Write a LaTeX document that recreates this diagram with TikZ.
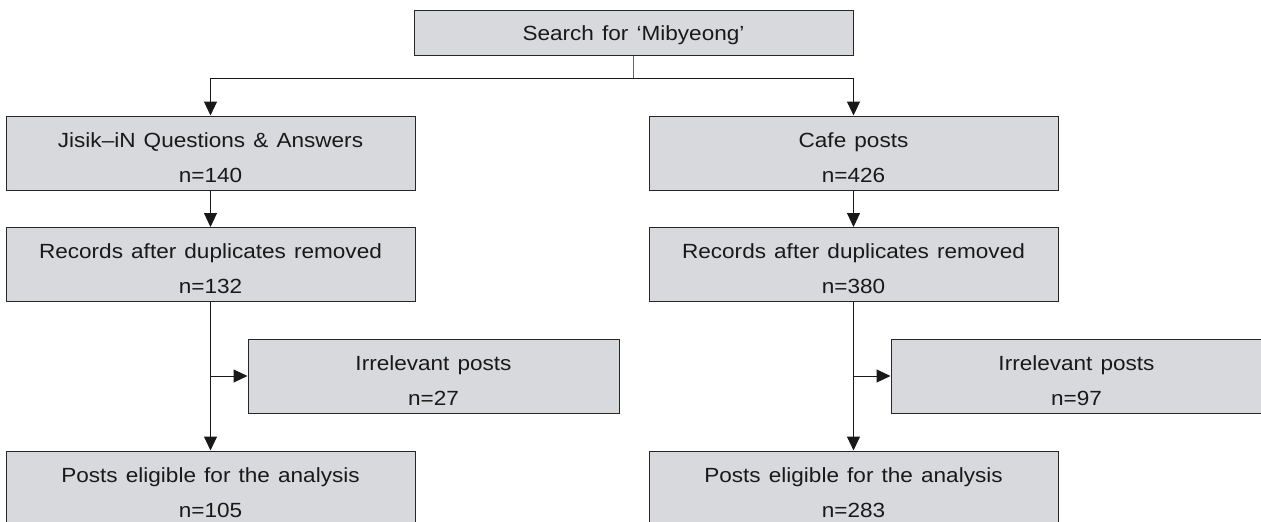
\documentclass[tikz,border=0pt]{standalone}
\usepackage{fontspec}
\setmainfont{Liberation Sans}[FakeStretch=1.1,WordSpace=1.3]
\usetikzlibrary{arrows.meta}
\definecolor{boxgray}{RGB}{216,217,220}
\definecolor{txt}{RGB}{25,25,25}
\newcommand{\firststrut}{\rule{0pt}{24pt}}
\tikzset{
  box/.style={draw=black!85, fill=boxgray, line width=1pt, minimum height=74pt,
    inner sep=0pt, align=center, text=txt,
    font={\fontsize{20.5}{35}\selectfont}},
  conn/.style={draw=black!90, line width=1pt},
  arr/.style={conn, -{Triangle[width=13pt,length=14pt]}},
}
\begin{document}
\begin{tikzpicture}[x=1pt,y=-1pt]
\useasboundingbox (0,0) rectangle (1261,522);
\clip (0,0) rectangle (1261,522);
\node[box, minimum width=439pt, minimum height=45pt] (top) at (633.5,32.5) {\rule{0pt}{21pt}Search for ‘Mibyeong’};
\node[box, minimum width=409pt] (j1) at (210.5,153) {\firststrut Jisik–iN Questions \& Answers\\n=140};
\node[box, minimum width=409pt] (j2) at (210.5,264.5) {\firststrut Records after duplicates removed\\n=132};
\node[box, minimum width=409pt] (j3) at (210.5,488) {\firststrut Posts eligible for the analysis\\n=105};
\node[box, minimum width=371pt] (ir1) at (433.5,376) {\firststrut Irrelevant posts\\n=27};
\node[box, minimum width=409pt] (c1) at (853.5,153) {\firststrut Cafe posts\\n=426};
\node[box, minimum width=409pt] (c2) at (853.5,264.5) {\firststrut Records after duplicates removed\\n=380};
\node[box, minimum width=409pt] (c3) at (853.5,488) {\firststrut Posts eligible for the analysis\\n=283};
\node[box, minimum width=371pt] (ir2) at (1076.5,376) {\firststrut Irrelevant posts\\n=97};
\coordinate (mid) at (633.5,78);
\draw[conn, draw=black!60, line width=1.3pt] (top.south) -- (mid);
\draw[arr] (mid) -| (j1.north);
\draw[arr] (mid) -| (c1.north);
\draw[arr] (j1) -- (j2);
\draw[arr] (c1) -- (c2);
\draw[arr] (j2) -- (j3);
\draw[arr] (c2) -- (c3);
\coordinate (b1) at (j2.south |- ir1.west);
\coordinate (b2) at (c2.south |- ir2.west);
\draw[arr] (b1) -- (ir1.west);
\draw[arr] (b2) -- (ir2.west);
\end{tikzpicture}
\end{document}
